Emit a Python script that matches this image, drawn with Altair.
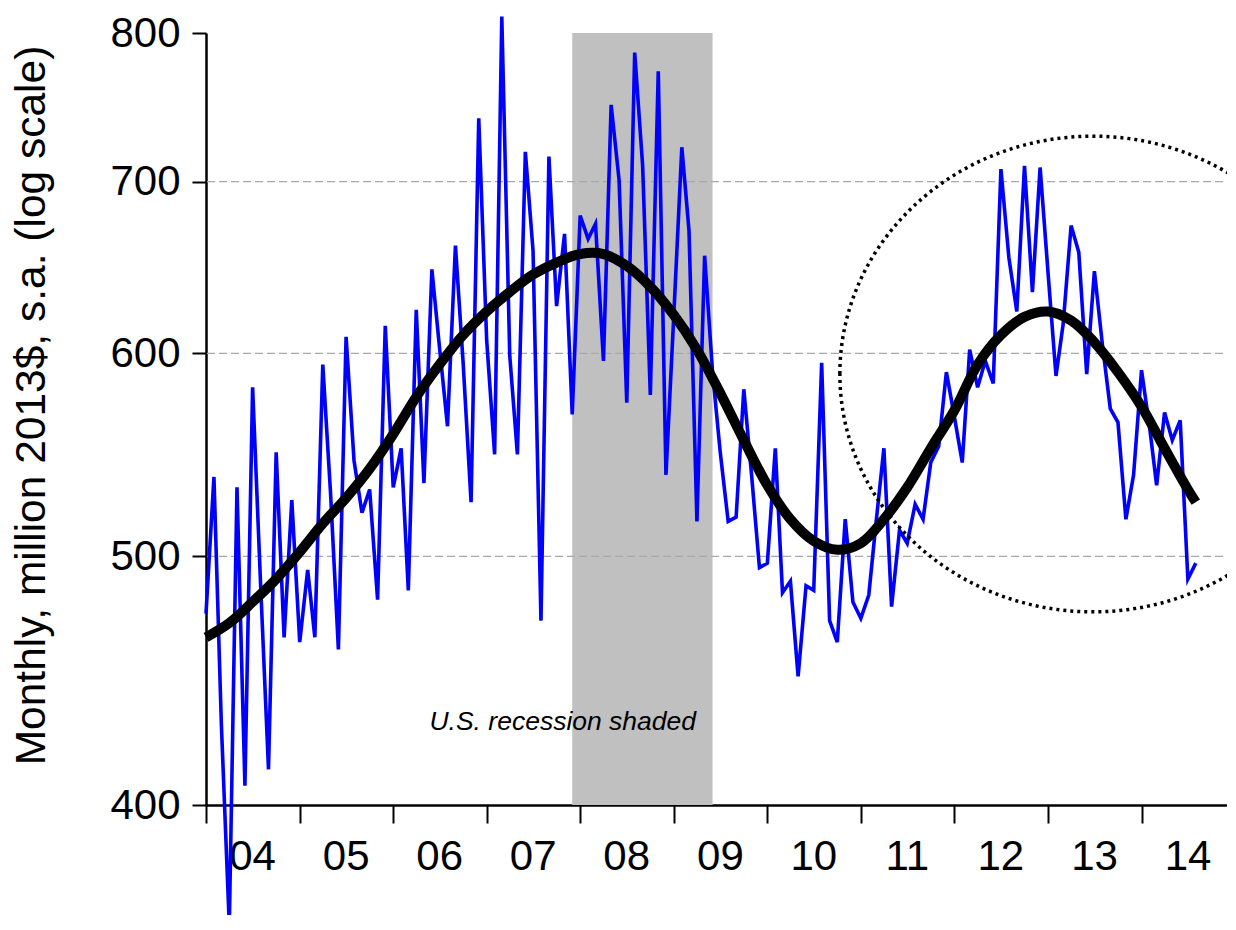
import altair as alt
import pandas as pd

# ---------------- data ----------------
blue_values = [
    475, 537, 430, 359, 532, 407, 582, 488, 413, 549, 465, 526,   # 2004
    463, 494, 465, 594, 530, 460, 609, 545, 520, 531, 481, 615,   # 2005
    532, 551, 485, 624, 534, 647, 603, 562, 661, 595, 525, 741,   # 2006
    607, 548, 812, 599, 548, 719, 658, 472, 716, 626, 668, 568,   # 2007
    679, 665, 674, 596, 750, 701, 574, 786, 710, 578, 773, 538,   # 2008
    622, 722, 670, 516, 655, 590, 549, 516, 518, 581, 537, 495,   # 2009
    497, 551, 484, 489, 449, 487, 485, 595, 472, 463, 517, 480,   # 2010
    473, 483, 515, 551, 478, 512, 506, 524, 517, 544, 552, 590,   # 2011
    567, 544, 602, 582, 596, 584, 708, 654, 623, 710, 634, 709,   # 2012
    645, 588, 616, 673, 657, 589, 646, 605, 571, 564, 517, 538,   # 2013
    591, 562, 533, 569, 555, 565, 490, 497,                       # 2014
]
blue_dates = [f"{2004 + i // 12}-{i % 12 + 1:02d}-01" for i in range(len(blue_values))]

trend_months = list(range(0, 127, 3)) + [127]
trend_values = [
    465, 471, 480, 490, 502, 515, 527, 541, 558, 577, 594, 610, 623, 634, 644,
    651, 656, 656, 649, 637, 621, 602, 579, 555, 533, 517, 507, 503, 506, 517,
    532, 551, 570, 594, 610, 620, 623, 618, 606, 590, 572, 551, 531, 525,
]
trend_dates = [f"{2004 + i // 12}-{i % 12 + 1:02d}-01" for i in trend_months]

recession_start = ["2007-12-01"]
recession_end = ["2009-06-01"]

grid_values = [500, 600, 700]
y_ticks = [400, 500, 600, 700, 800]
x_years = list(range(2004, 2016))

note_text = ["U.S. recession shaded"]
note_date = ["2007-10-25"]
note_value = [431]

circle_date = ["2013-06-25"]
circle_value = [589]

y_title = "Monthly, million 2013$, s.a. (log scale)"

# ---------------- tables ----------------
blue_df = pd.DataFrame({"date": blue_dates, "value": blue_values})
trend_df = pd.DataFrame({"date": trend_dates, "value": trend_values})
rec_df = pd.DataFrame({"start": recession_start, "end": recession_end})
grid_df = pd.DataFrame({"value": grid_values})
note_df = pd.DataFrame({"date": note_date, "value": note_value, "label": note_text})
circ_df = pd.DataFrame({"date": circle_date, "value": circle_value})

FONT = "Liberation Sans"

x_scale = alt.Scale(
    type="utc",
    domain=[alt.DateTime(year=2004, month=1, date=1, utc=True),
            alt.DateTime(year=2015, month=1, date=1, utc=True)],
    nice=False,
)
y_scale = alt.Scale(type="log", domain=[400, 800], nice=False, zero=False)

x_axis = alt.Axis(
    values=[alt.DateTime(year=y, month=1, date=1, utc=True) for y in x_years],
    labelExpr="utcFormat(datum.value, '%y') == '15' ? '' : utcFormat(datum.value, '%y')",
    labelOffset=46,
    labelFlush=False,
    labelOverlap=False,
    labelBound=False,
    labelFont=FONT,
    labelFontSize=42,
    labelColor="black",
    labelPadding=13,
    tickSize=18,
    tickWidth=2,
    tickColor="black",
    domainColor="black",
    domainWidth=2.5,
    grid=False,
    title=None,
)
y_axis = alt.Axis(
    values=y_ticks,
    format="d",
    labelFont=FONT,
    labelFontSize=42,
    labelColor="black",
    labelPadding=12,
    tickSize=14,
    tickWidth=2,
    tickColor="black",
    domainColor="black",
    domainWidth=2.5,
    grid=False,
    title=y_title,
    titleFont=FONT,
    titleFontSize=42.5,
    titleFontWeight="normal",
    titleColor="black",
    titleAngle=270,
    titleAlign="center",
    titleBaseline="middle",
    titleX=-175,
    titleY=372,
)


def X(field="date"):
    return alt.X(f"{field}:T", scale=x_scale, axis=x_axis)


def Y(field="value"):
    return alt.Y(f"{field}:Q", scale=y_scale, axis=y_axis)


shade = alt.Chart(rec_df).mark_rect(color="#c0c0c0").encode(
    x=X("start"), x2="end:T"
)

grid = alt.Chart(grid_df).mark_rule(
    color="#a8a8a8", strokeWidth=1.2, strokeDash=[8, 4]
).encode(y=Y("value"))

note = alt.Chart(note_df).mark_text(
    font=FONT, fontStyle="italic", fontSize=26.5, align="center",
    baseline="middle", color="black"
).encode(x=X(), y=Y(), text="label:N")

blue = alt.Chart(blue_df).mark_line(color="#0000ff", strokeWidth=3.6).encode(
    x=X(), y=Y()
)

trend = alt.Chart(trend_df).mark_line(
    color="black", strokeWidth=10, interpolate="catmull-rom", strokeCap="butt"
).encode(x=X(), y=Y())

ellipse_path = "M -1 0 A 1 0.94 0 1 1 1 0 A 1 0.94 0 1 1 -1 0 Z"
circle = alt.Chart(circ_df).mark_point(
    shape=ellipse_path, filled=False, color="black", strokeWidth=3.5,
    strokeDash=[3, 4], size=506 * 506, opacity=1
).encode(x=X(), y=Y())

chart = alt.layer(shade, grid, note, blue, trend, circle).properties(
    width=1029,
    height=772,
    autosize=alt.AutoSizeParams(type="none"),
    padding={"left": 198, "top": 25, "right": -8, "bottom": 110},
    background="white",
).configure_view(stroke=None)

chart.save("out.html", embed_options={"renderer": "svg", "actions": False})
